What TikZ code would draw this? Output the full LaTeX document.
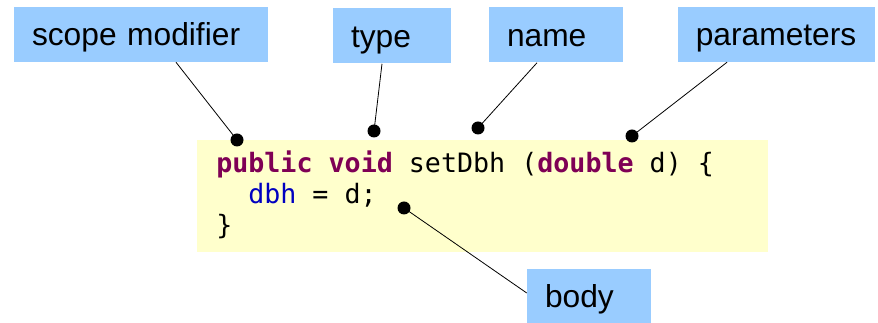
\documentclass[tikz,border=0pt]{standalone}
\usepackage{fontspec}
\setmainfont{Liberation Sans}
\newfontfamily\codefont{DejaVu Sans Mono}
\definecolor{labelblue}{HTML}{99CCFF}
\definecolor{codeyellow}{HTML}{FFFFCC}
\definecolor{keyword}{HTML}{7F0055}
\definecolor{fieldblue}{HTML}{0000C0}
\newcommand{\kw}[1]{\textcolor{keyword}{\textbf{#1}}}
\begin{document}
\begin{tikzpicture}[x=0.75pt,y=-0.75pt,font=\fontsize{23.8}{28}\selectfont]

    % Define node styles
    \tikzstyle{label_block} = [fill=labelblue, inner xsep=13.5pt, inner ysep=0pt, minimum height=41.25pt, text height=22pt, text depth=5pt, align=left]
    \tikzstyle{code_block} = [fill=codeyellow, inner sep=0pt, minimum width=428.25pt, minimum height=84pt]
    \tikzstyle{code_line} = [inner sep=0pt, anchor=base west, font=\codefont\fontsize{20}{24}\selectfont]
    \tikzstyle{dot} = [circle, fill=black, inner sep=0pt, minimum size=9.75pt]
    \tikzstyle{pointer} = [black, line width=0.6pt]

    \useasboundingbox (0,0) rectangle (878,323);

    % Draw nodes
    \node [code_block] (code) at (482.5,196) {};
    \node [code_line] (line1) at (216,173) {\kw{public} \kw{void} setDbh (\kw{double} d) \{};
    \node [code_line] (line2) at (248,204) {\textcolor{fieldblue}{dbh} = d;};
    \node [code_line] (line3) at (216,235) {\}};

    \node [label_block, text width=163.5pt] (scope) at (141,34.5) {scope modifier};
    \node [label_block, text width=61.5pt] (type) at (392,36) {type};
    \node [label_block, text width=73.5pt] (name) at (556,35) {name};
    \node [label_block, text width=121pt] (params) at (776.5,34.5) {parameters};
    \node [label_block, text width=66pt] (body) at (589,296.5) {body};

    \node [dot] (scope_dot) at (237,140) {};
    \node [dot] (type_dot) at (374,131) {};
    \node [dot] (name_dot) at (478,128) {};
    \node [dot] (params_dot) at (632,136) {};
    \node [dot] (body_dot) at (404,208) {};

    % Draw arrows
    \draw [pointer] (scope.south -| 176,0) -- (scope_dot.center);
    \draw [pointer] (type.south -| 382,0) -- (type_dot.center);
    \draw [pointer] (name.south -| 537,0) -- (name_dot.center);
    \draw [pointer] (params.south -| 727,0) -- (params_dot.center);
    \draw [pointer] (body_dot.center) -- (body.west |- 0,293);

\end{tikzpicture}
\end{document}
